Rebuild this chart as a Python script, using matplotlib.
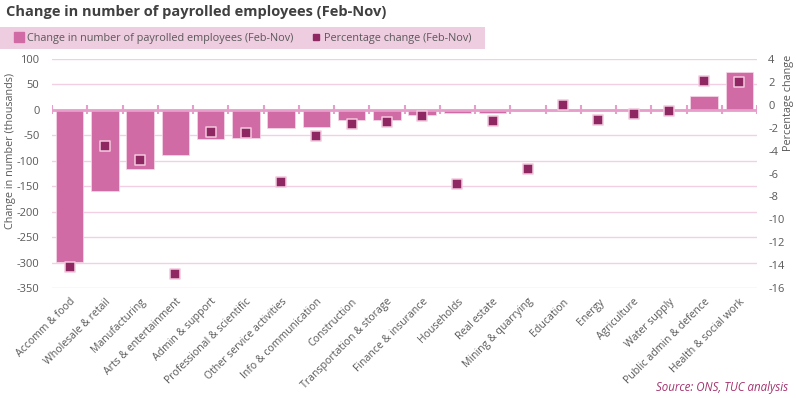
import matplotlib
matplotlib.use("Agg")
import matplotlib.pyplot as plt
from matplotlib.lines import Line2D
from matplotlib.patches import Rectangle
import numpy as np

plt.rcParams['font.family'] = ['Open Sans', 'DejaVu Sans']
plt.rcParams['axes.unicode_minus'] = False

# data
sectors = ['Accomm & food', 'Wholesale & retail', 'Manufacturing', 'Arts & entertainment',
           'Admin & support', 'Professional & scientific', 'Other service activities',
           'Info & communication', 'Construction', 'Transportation & storage',
           'Finance & insurance', 'Households', 'Real estate', 'Mining & quarrying',
           'Education', 'Energy', 'Agriculture', 'Water supply',
           'Public admin & defence', 'Health & social work']
change_thousands = [-298, -160, -116, -89, -57, -56, -36, -33, -20, -20,
                    -10, -6.5, -6, -3, -3, -0.5, -0.5, -0.3, 27, 75]
pct_change = [-14.2, -3.6, -4.8, -14.8, -2.4, -2.5, -6.7, -2.7, -1.7, -1.5,
              -1.0, -6.9, -1.4, -5.6, 0.0, -1.3, -0.8, -0.5, 2.1, 2.0]

bar_col = '#d16ba5'
pt_col = '#8e2762'
grid_col = '#f3cfe3'
axis_col = '#e59fca'
txt_col = '#595959'

fig = plt.figure(figsize=(7.96, 3.98), dpi=100)
ax = fig.add_axes([52/796, 1 - 288/398, (757 - 52)/796, (288 - 59)/398])
ax2 = ax.twinx()

x = np.arange(len(sectors))
ax.bar(x, change_thousands, width=0.78, color=bar_col, edgecolor='#f6d9ea', linewidth=0.5, zorder=3)
ax.set_xlim(-0.5, len(sectors) - 0.5)
ax.set_ylim(-350, 100)
ax.set_yticks(np.arange(-350, 101, 50))
ax.grid(axis='y', color=grid_col, lw=1, zorder=0)
ax.set_axisbelow(True)

# zero line with category boundary marks
ax.axhline(0, color=axis_col, lw=2, zorder=4)
ax.vlines(np.arange(-0.5, len(sectors)), -9, 9, color=axis_col, lw=1.5, zorder=4)

ax.set_xticks(x)
ax.set_xticklabels(sectors, rotation=45, ha='right', rotation_mode='anchor', fontsize=7.6, color=txt_col)
ax.tick_params(axis='x', length=0, pad=6)
ax.tick_params(axis='y', length=0, labelsize=8, labelcolor=txt_col, pad=9)
ax.set_ylabel('Change in number (thousands)', fontsize=7.8, color=txt_col)
ax.yaxis.set_label_coords((16 - 52) / 705, (288 - 151) / 229)

ax2.scatter(x, pct_change, marker='s', s=62, color=pt_col, edgecolors='#f3c9de', linewidths=1.1, zorder=5)
ax2.set_ylim(-16, 4)
ax2.set_yticks(np.arange(-16, 5, 2))
ax2.tick_params(axis='y', length=0, labelsize=8, labelcolor=txt_col, pad=8)
ax2.set_ylabel('Percentage change', fontsize=7.8, color=txt_col)
ax2.yaxis.set_label_coords((783 - 52) / 705, (288 - 103) / 229)

for a in (ax, ax2):
    for sp in a.spines.values():
        sp.set_visible(False)

# title, legend band, source
fig.text(6/796, 1 - 12/398, 'Change in number of payrolled employees (Feb-Nov)',
         fontsize=10.5, fontweight='bold', color='#404040', va='center')
fig.patches.append(Rectangle((0, 1 - 49/398), 485/796, 22/398, transform=fig.transFigure,
                             facecolor='#efcde1', edgecolor='none', zorder=0))
handles = [Line2D([], [], marker='s', ls='none', color=bar_col, markersize=6.5),
           Line2D([], [], marker='s', ls='none', color=pt_col, markersize=4.5)]
fig.legend(handles, ['Change in number of payrolled employees (Feb-Nov)', 'Percentage change (Feb-Nov)'],
           loc='center left', bbox_to_anchor=(14/796, 1 - 38/398), ncol=2, frameon=False,
           fontsize=7.8, labelcolor=txt_col, handletextpad=0.2, columnspacing=1.6, borderaxespad=0,
           borderpad=0, handlelength=1)
fig.text(788/796, 1 - 388/398, 'Source: ONS, TUC analysis', fontsize=8.3, style='italic',
         color='#a3336f', ha='right', va='center')

fig.savefig('out.png', dpi=100)
